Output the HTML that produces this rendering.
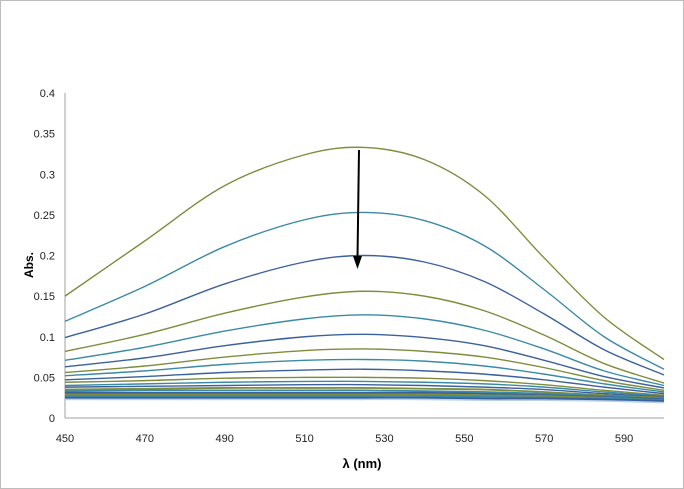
<!DOCTYPE html>
<html><head><meta charset="utf-8"><style>
html,body{margin:0;padding:0;background:#fff;}
svg{display:block;font-family:"Liberation Sans",sans-serif;}
</style></head><body>
<svg id="chart" width="684" height="489">
<rect x="0.5" y="0.5" width="683" height="488" fill="#fff" stroke="#bdbdbd"/>
<g id="axes"></g><g id="series"></g>
<text x="33" y="265" transform="rotate(-90 33 265)" text-anchor="middle" font-size="12" font-weight="bold">Abs.</text>
<text x="362" y="468" text-anchor="middle" font-size="13" font-weight="bold">λ (nm)</text>
<line x1="359" y1="150" x2="357.5" y2="258" stroke="#000" stroke-width="2"/>
<polygon points="353,256 362,256 357.5,269" fill="#000"/>
</svg>
<script>
const wavelengths=[450,470,490,510,525,540,555,570,585,600];
const s1=[0.150,0.218,0.286,0.324,0.333,0.318,0.274,0.197,0.124,0.072];
const s2=[0.119,0.162,0.211,0.244,0.253,0.243,0.212,0.158,0.100,0.060];
const s3=[0.099,0.128,0.165,0.192,0.200,0.192,0.168,0.128,0.084,0.053];
const s4=[0.082,0.103,0.129,0.149,0.156,0.150,0.132,0.102,0.067,0.043];
const s5=[0.071,0.087,0.107,0.122,0.127,0.122,0.108,0.085,0.058,0.040];
const s6=[0.063,0.074,0.089,0.100,0.103,0.099,0.089,0.071,0.051,0.037];
const s7=[0.056,0.064,0.075,0.083,0.085,0.082,0.075,0.062,0.046,0.034];
const s8=[0.052,0.058,0.066,0.071,0.072,0.070,0.064,0.054,0.042,0.032];
const s9=[0.047,0.051,0.056,0.059,0.060,0.058,0.054,0.047,0.038,0.030];
const s10=[0.044,0.046,0.049,0.050,0.050,0.049,0.046,0.041,0.034,0.028];
const s11=[0.040,0.042,0.044,0.045,0.045,0.044,0.042,0.038,0.032,0.027];
const s12=[0.038,0.039,0.040,0.041,0.041,0.040,0.038,0.035,0.030,0.026];
const s13=[0.035,0.036,0.037,0.037,0.037,0.036,0.035,0.032,0.028,0.025];
const s14=[0.033,0.034,0.034,0.034,0.034,0.033,0.032,0.030,0.027,0.024];
const s15=[0.031,0.031,0.031,0.031,0.031,0.031,0.030,0.028,0.026,0.023];
const s16=[0.029,0.029,0.029,0.029,0.029,0.029,0.028,0.027,0.025,0.022];
const s17=[0.027,0.027,0.027,0.027,0.027,0.027,0.026,0.025,0.024,0.022];
const s18=[0.025,0.025,0.025,0.025,0.025,0.025,0.024,0.024,0.023,0.021];
const allSeries=[s1,s2,s3,s4,s5,s6,s7,s8,s9,s10,s11,s12,s13,s14,s15,s16,s17,s18];
const xTicks=[450,470,490,510,530,550,570,590];
const yTicks=[0,0.05,0.1,0.15,0.2,0.25,0.3,0.35,0.4];
const yTickLabels=["0","0.05","0.1","0.15","0.2","0.25","0.3","0.35","0.4"];
const colors=["#7f8c3c","#3a8aa6","#3b619c"];
const NS="http://www.w3.org/2000/svg";
const X=v=>65+(v-450)*(599/150);
const Y=v=>418-v*812.5;
const axes=document.getElementById('axes');
function mk(tag,attrs,parent){const e=document.createElementNS(NS,tag);for(const k in attrs)e.setAttribute(k,attrs[k]);parent.appendChild(e);return e;}
const ya=mk('line',{x1:65,y1:93,x2:65,y2:418,stroke:'#a0a0a0'},axes);


const xa=mk('line',{x1:65,y1:418,x2:664,y2:418,stroke:'#a0a0a0'},axes);


yTicks.forEach((t,i)=>{
 const tx=mk('text',{x:55,y:Y(t)+4,'text-anchor':'end','font-size':11,fill:'#222'},axes);
 tx.textContent=yTickLabels[i];
 
 
});
xTicks.forEach(t=>{
 const tx=mk('text',{x:X(t),y:442,'text-anchor':'middle','font-size':11,fill:'#222'},axes);
 tx.textContent=t;
 
 
});
const sg=document.getElementById('series');
function pathFor(vals){
 const p=vals.map((v,i)=>[X(wavelengths[i]),Y(v)]);
 let d='M'+p[0][0]+','+p[0][1];
 for(let i=0;i<p.length-1;i++){
  const p0=p[Math.max(0,i-1)],p1=p[i],p2=p[i+1],p3=p[Math.min(p.length-1,i+2)];
  const c1=[p1[0]+(p2[0]-p0[0])/6,p1[1]+(p2[1]-p0[1])/6];
  const c2=[p2[0]-(p3[0]-p1[0])/6,p2[1]-(p3[1]-p1[1])/6];
  d+=` C${c1[0]},${c1[1]} ${c2[0]},${c2[1]} ${p2[0]},${p2[1]}`;
 }
 return d;
}
const band=mk('path',{d:pathFor(s18),fill:'none',stroke:'#b9d3e6','stroke-width':5},sg);


allSeries.forEach((vals,i)=>{
 const el=mk('path',{d:pathFor(vals),fill:'none',stroke:colors[i%3],'stroke-width':i>11?1.8:1.4},sg);
 
 
});
</script>
</body></html>
